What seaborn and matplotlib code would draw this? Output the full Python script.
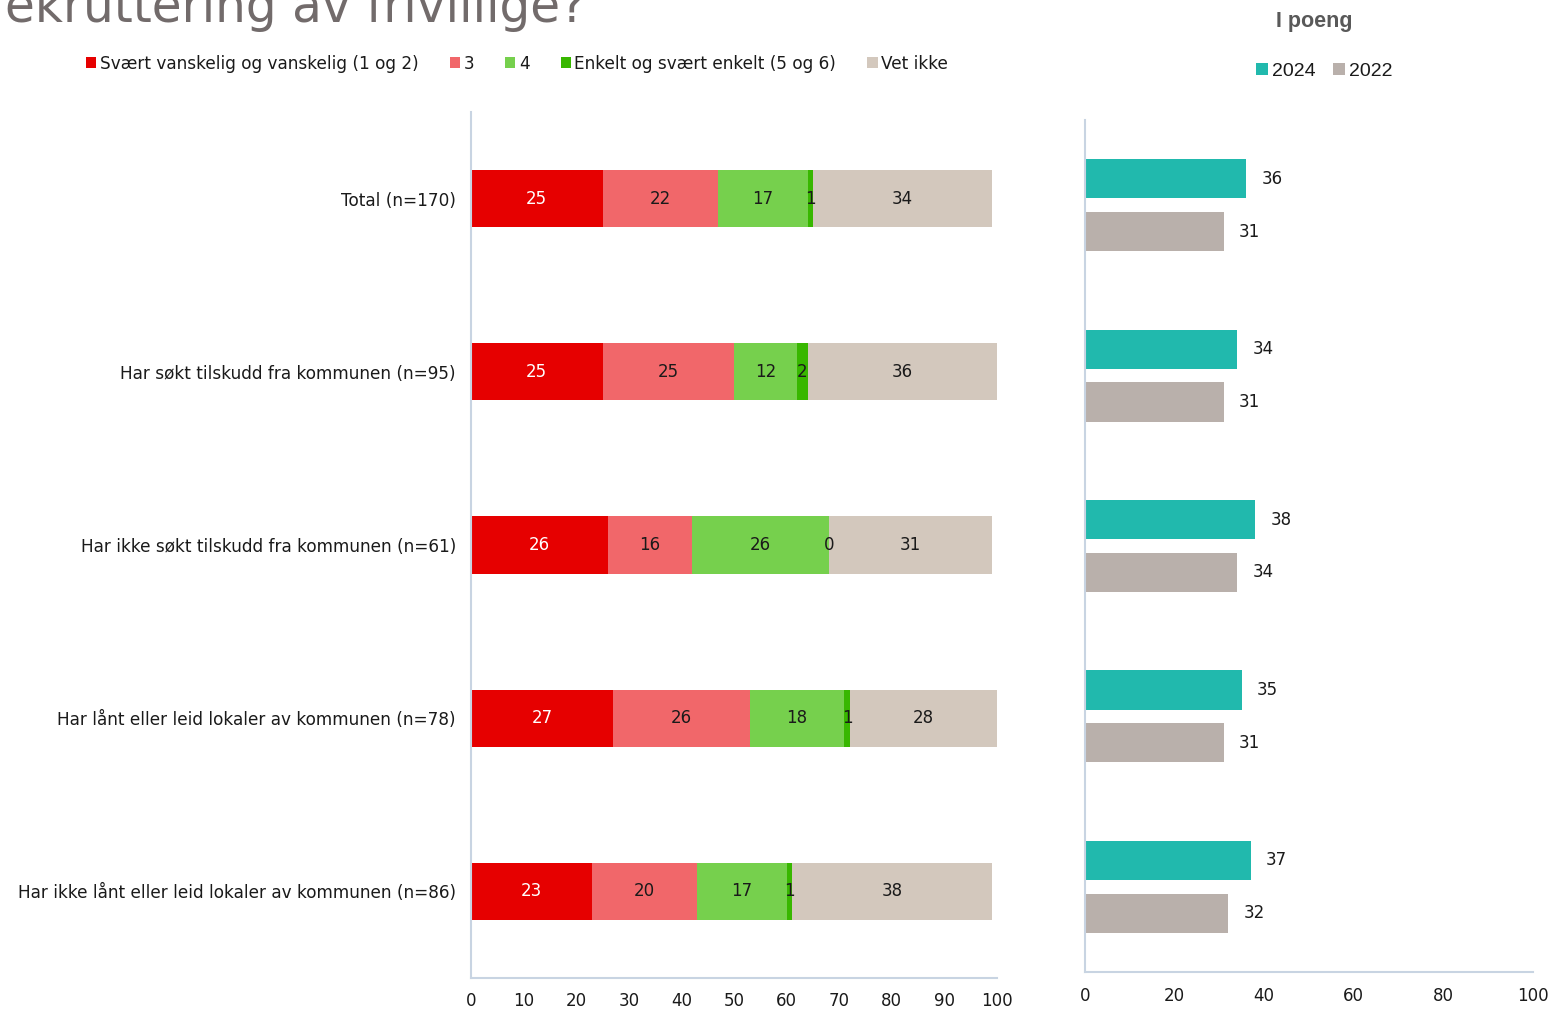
import pandas as pd
import matplotlib.pyplot as plt
from matplotlib.patches import Patch
import seaborn as sns

# ---- data ----
categories = [
    "Total (n=170)",
    "Har søkt tilskudd fra kommunen (n=95)",
    "Har ikke søkt tilskudd fra kommunen (n=61)",
    "Har lånt eller leid lokaler av kommunen (n=78)",
    "Har ikke lånt eller leid lokaler av kommunen (n=86)",
]
segments = ["Svært vanskelig og vanskelig (1 og 2)", "3", "4", "Enkelt og svært enkelt (5 og 6)", "Vet ikke"]
hard = [25, 25, 26, 27, 23]
three = [22, 25, 16, 26, 20]
four = [17, 12, 26, 18, 17]
easy = [1, 2, 0, 1, 1]
dont_know = [34, 36, 31, 28, 38]

years = ["2024", "2022"]
points_2024 = [36, 34, 38, 35, 37]
points_2022 = [31, 31, 34, 31, 32]

seg_colors = ["#e60000", "#f1676a", "#76d04d", "#38b700", "#d3c8bd"]
label_colors = ["white", "#1a1a1a", "#1a1a1a", "#1a1a1a", "#1a1a1a"]
year_colors = ["#21b9ad", "#b9b0ab"]

sns.set_theme(style="white")
plt.rcParams["font.family"] = ["DejaVu Sans"]

fig = plt.figure(figsize=(15.52, 10.09), dpi=100)
ax = fig.add_axes([0.3035, 0.0307, 0.3389, 0.8583])
ax2 = fig.add_axes([0.6991, 0.0367, 0.2887, 0.8444])

# ---- left: stacked bars (cumulative, drawn back to front) ----
values = [hard, three, four, easy, dont_know]
df = pd.DataFrame({"cat": categories})
for name, vals in zip(segments, values):
    df[name] = vals
cum = df[segments].cumsum(axis=1)

for i in range(len(segments) - 1, -1, -1):
    sns.barplot(x=cum[segments[i]], y=df["cat"], color=seg_colors[i], orient="h",
                width=0.33, saturation=1, errorbar=None, linewidth=0, ax=ax)

for r in range(len(categories)):
    for i, name in enumerate(segments):
        v = df.loc[r, name]
        ax.text(cum.loc[r, name] - v / 2, r, str(v), ha="center", va="center",
                fontsize=12, color=label_colors[i])

ax.set_xlim(0, 100)
ax.set_xticks(range(0, 101, 10))
ax.set_xlabel("")
ax.set_ylabel("")
ax.tick_params(axis="x", length=0, pad=10, labelsize=12, colors="#1a1a1a")
ax.tick_params(axis="y", length=0, pad=11, labelsize=12.2, colors="#1a1a1a")
for s in ["top", "right"]:
    ax.spines[s].set_visible(False)
for s in ["left", "bottom"]:
    ax.spines[s].set_color("#c8d4e2")
    ax.spines[s].set_linewidth(1.5)

handles = [Patch(facecolor=c, edgecolor="none") for c in seg_colors]
fig.legend(handles, segments, loc="center left", bbox_to_anchor=(0.0457, 0.937), ncol=5,
           frameon=False, fontsize=12.2, handlelength=0.6, handleheight=0.6,
           handletextpad=0.2, columnspacing=1.85, labelcolor="#1a1a1a")

# ---- right: points per year ----
df2 = pd.DataFrame({
    "cat": categories * 2,
    "year": [years[0]] * 5 + [years[1]] * 5,
    "value": points_2024 + points_2022,
})
sns.barplot(data=df2, x="value", y="cat", hue="year", hue_order=years, palette=year_colors,
            orient="h", width=0.62, gap=0.26, saturation=1, errorbar=None, linewidth=0, ax=ax2)
for cont in ax2.containers:
    ax2.bar_label(cont, padding=11, fontsize=12, color="#1a1a1a")

ax2.set_xlim(0, 100)
ax2.set_xticks(range(0, 101, 20))
ax2.set_yticks([])
ax2.set_xlabel("")
ax2.set_ylabel("")
ax2.tick_params(axis="x", length=0, pad=11, labelsize=12, colors="#1a1a1a")
for s in ["top", "right"]:
    ax2.spines[s].set_visible(False)
for s in ["left", "bottom"]:
    ax2.spines[s].set_color("#c8d4e2")
    ax2.spines[s].set_linewidth(1.5)

sns.move_legend(ax2, "center left", bbox_to_anchor=(0.7983, 0.9296), bbox_transform=fig.transFigure,
                ncol=2, frameon=False, title=None, fontsize=14, handlelength=0.6,
                handleheight=0.6, handletextpad=0.2, columnspacing=0.9)
for t in ax2.get_legend().get_texts():
    t.set_family("Liberation Sans")
    t.set_color("#1a1a1a")

fig.text(0.847, 1 - 21 / 1009, "I poeng", ha="center", va="center", fontsize=15.5,
         fontweight="bold", color="#595959", family="Liberation Sans")

# title, cut at the top edge as in the source slide
fig.text(0.003, 1 - 22 / 1009, "ekruttering av frivillige?", ha="left", va="baseline",
         fontsize=35, color="#726b6b")

fig.savefig("out.png", dpi=100)
